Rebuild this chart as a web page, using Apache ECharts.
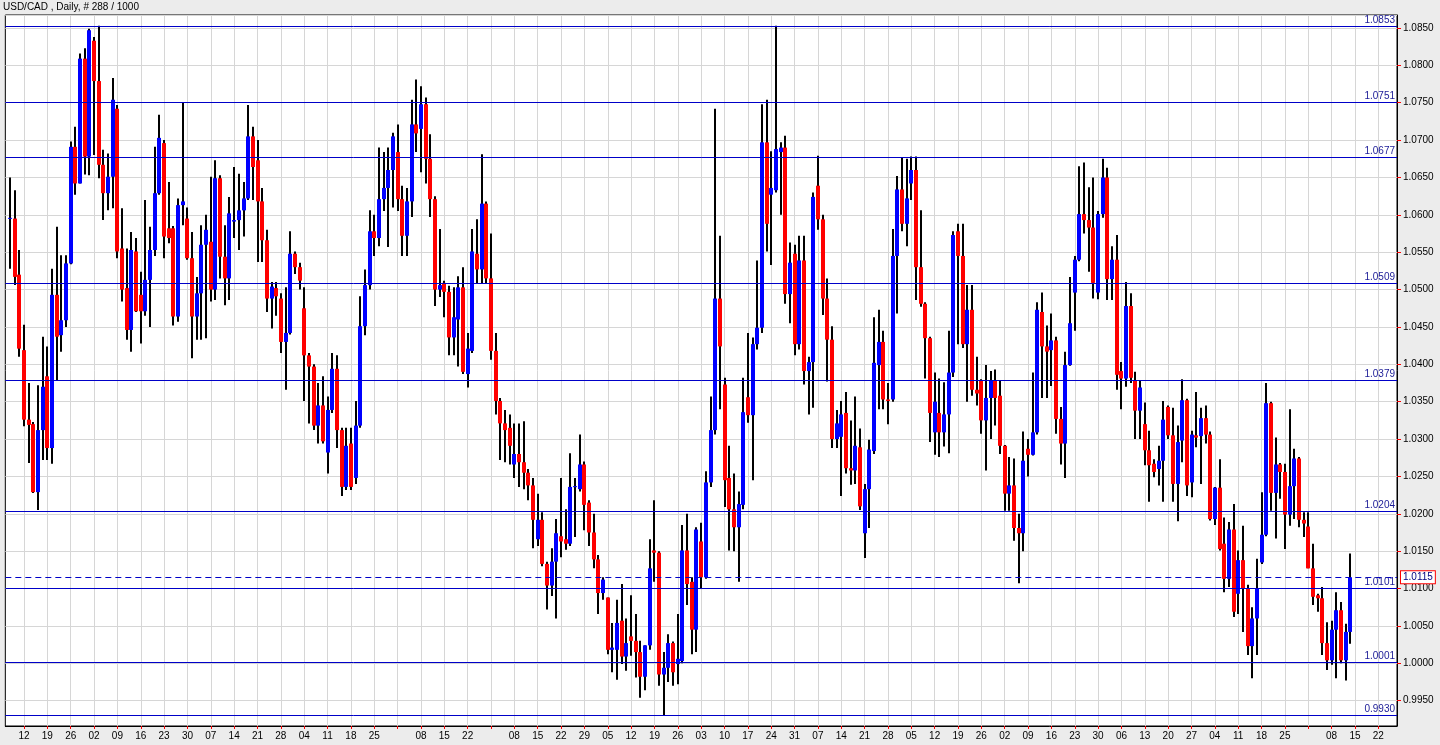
<!DOCTYPE html>
<html>
<head>
<meta charset="utf-8">
<script src="https://cdn.jsdelivr.net/npm/echarts@6/dist/echarts.min.js"></script>
<style>
html,body{margin:0;padding:0;background:#ececec;}
#chart{width:1440px;height:745px;}
</style>
</head>
<body>
<div id="chart"></div>
<script>
// ---- data ----
const chartTitle = 'USD/CAD , Daily, # 288 / 1000';
const firstSlotDate = '2009-10-06';   // one empty slot before the first bar
const slotCount = 299;                 // 1 empty + 288 bars + 10 future slots

const opens = [
1.0595,1.0595,1.0520,1.0419,1.0326,1.0320,1.0229,1.0312,1.0384,1.0288,
1.0493,1.0439,1.0459,1.0535,1.0691,1.0642,1.0809,1.0678,1.0833,1.0779,
1.0667,1.0629,1.0651,1.0742,1.0555,1.0502,1.0446,1.0551,1.0493,1.0471,
1.0513,1.0553,1.0629,1.0696,1.0582,1.0582,1.0464,1.0613,1.0595,1.0542,
1.0464,1.0495,1.0560,1.0564,1.0500,1.0649,1.0544,1.0515,1.0591,1.0593,
1.0606,1.0622,1.0705,1.0673,1.0618,1.0566,1.0488,1.0502,1.0488,1.0430,
1.0442,1.0548,1.0530,1.0475,1.0412,1.0397,1.0318,1.0345,1.0282,1.0339,
1.0394,1.0312,1.0236,1.0294,1.0248,1.0318,1.0451,1.0506,1.0578,1.0569,
1.0621,1.0636,1.0660,1.0684,1.0621,1.0572,1.0618,1.0721,1.0715,1.0748,
1.0675,1.0621,1.0500,1.0509,1.0497,1.0436,1.0460,1.0503,1.0387,1.0418,
1.0548,1.0527,1.0615,1.0515,1.0418,1.0351,1.0321,1.0315,1.0266,1.0280,
1.0269,1.0255,1.0238,1.0166,1.0192,1.0133,1.0104,1.0136,1.0170,1.0166,
1.0160,1.0236,1.0233,1.0266,1.0215,1.0175,1.0139,1.0094,1.0088,1.0018,
1.0018,1.0057,1.0009,1.0036,1.0030,1.0015,0.9982,1.0024,1.0151,1.0148,
0.9985,0.9994,1.0027,0.9999,1.0003,1.0151,1.0109,1.0045,1.0163,1.0115,
1.0242,1.0312,1.0488,1.0373,1.0248,1.0206,1.0182,1.0212,1.0356,1.0332,
1.0427,1.0449,1.0697,1.0627,1.0633,1.0684,1.0690,1.0494,1.0548,1.0427,
1.0539,1.0391,1.0403,1.0639,1.0594,1.0488,1.0433,1.0300,1.0303,1.0335,
1.0261,1.0258,1.0289,1.0174,1.0233,1.0284,1.0399,1.0430,1.0353,1.0353,
1.0545,1.0634,1.0588,1.0642,1.0660,1.0530,1.0481,1.0435,1.0309,1.0335,
1.0309,1.0333,1.0389,1.0578,1.0545,1.0427,1.0473,1.0366,1.0378,1.0325,
1.0355,1.0378,1.0358,1.0291,1.0227,1.0238,1.0181,1.0174,1.0287,1.0279,
1.0309,1.0470,1.0424,1.0419,1.0432,1.0327,1.0294,1.0399,1.0496,1.0540,
1.0601,1.0593,1.0583,1.0496,1.0601,1.0650,1.0514,1.0540,1.0391,1.0381,
1.0478,1.0378,1.0338,1.0320,1.0285,1.0267,1.0260,1.0271,1.0343,1.0305,
1.0240,1.0298,1.0352,1.0242,1.0305,1.0304,1.0328,1.0306,1.0193,1.0235,
1.0160,1.0113,1.0179,1.0093,1.0138,1.0100,1.0023,1.0060,1.0135,1.0172,
1.0348,1.0228,1.0266,1.0256,1.0199,1.0237,1.0274,1.0192,1.0183,1.0127,
1.0091,1.0087,1.0027,1.0004,1.0045,1.0071,1.0004,1.0042
];
const highs = [
1.0650,1.0633,1.0553,1.0453,1.0375,1.0323,1.0372,1.0437,1.0424,1.0528,
1.0584,1.0546,1.0546,1.0698,1.0718,1.0816,1.0823,1.0849,1.0838,1.0853,
1.0687,1.0682,1.0783,1.0747,1.0609,1.0555,1.0577,1.0569,1.0524,1.0620,
1.0584,1.0691,1.0734,1.0700,1.0644,1.0585,1.0622,1.0751,1.0610,1.0577,
1.0517,1.0586,1.0600,1.0651,1.0673,1.0653,1.0586,1.0624,1.0664,1.0655,
1.0644,1.0747,1.0718,1.0700,1.0636,1.0580,1.0510,1.0510,1.0495,1.0503,
1.0578,1.0551,1.0536,1.0503,1.0415,1.0400,1.0375,1.0384,1.0357,1.0415,
1.0412,1.0315,1.0315,1.0315,1.0351,1.0491,1.0527,1.0606,1.0600,1.0690,
1.0684,1.0690,1.0710,1.0721,1.0639,1.0636,1.0754,1.0781,1.0772,1.0757,
1.0708,1.0625,1.0581,1.0512,1.0505,1.0503,1.0518,1.0530,1.0442,1.0581,
1.0594,1.0681,1.0618,1.0575,1.0442,1.0355,1.0339,1.0333,1.0321,1.0321,
1.0324,1.0260,1.0248,1.0227,1.0202,1.0136,1.0154,1.0193,1.0248,1.0206,
1.0281,1.0248,1.0306,1.0270,1.0218,1.0200,1.0145,1.0115,1.0088,1.0054,
1.0085,1.0106,1.0060,1.0091,1.0066,1.0030,1.0024,1.0166,1.0218,1.0150,
1.0015,1.0039,1.0029,1.0066,1.0185,1.0200,1.0115,1.0182,1.0188,1.0257,
1.0357,1.0742,1.0572,1.0382,1.0291,1.0254,1.0230,1.0382,1.0442,1.0436,
1.0539,1.0748,1.0754,1.0685,1.0853,1.0697,1.0706,1.0563,1.0560,1.0572,
1.0572,1.0410,1.0630,1.0679,1.0600,1.0515,1.0451,1.0339,1.0351,1.0363,
1.0325,1.0357,1.0314,1.0240,1.0299,1.0463,1.0473,1.0445,1.0375,1.0581,
1.0652,1.0676,1.0675,1.0678,1.0678,1.0606,1.0483,1.0437,1.0389,1.0381,
1.0376,1.0445,1.0578,1.0588,1.0588,1.0506,1.0506,1.0410,1.0380,1.0399,
1.0391,1.0393,1.0378,1.0292,1.0276,1.0274,1.0200,1.0310,1.0300,1.0389,
1.0483,1.0496,1.0452,1.0468,1.0437,1.0343,1.0417,1.0517,1.0545,1.0665,
1.0670,1.0637,1.0650,1.0605,1.0675,1.0663,1.0558,1.0573,1.0403,1.0510,
1.0495,1.0390,1.0378,1.0349,1.0311,1.0273,1.0291,1.0351,1.0345,1.0342,
1.0318,1.0380,1.0354,1.0311,1.0363,1.0342,1.0345,1.0310,1.0236,1.0273,
1.0195,1.0189,1.0213,1.0151,1.0184,1.0105,1.0075,1.0140,1.0229,1.0375,
1.0350,1.0302,1.0268,1.0267,1.0340,1.0287,1.0276,1.0202,1.0202,1.0160,
1.0093,1.0102,1.0055,1.0057,1.0095,1.0082,1.0053,1.0147
];
const lows = [
1.0528,1.0506,1.0410,1.0317,1.0268,1.0228,1.0205,1.0272,1.0272,1.0267,
1.0379,1.0417,1.0450,1.0534,1.0627,1.0642,1.0654,1.0653,1.0680,1.0649,
1.0593,1.0606,1.0609,1.0542,1.0484,1.0433,1.0417,1.0470,1.0428,1.0465,
1.0450,1.0545,1.0627,1.0542,1.0562,1.0452,1.0457,1.0586,1.0540,1.0408,
1.0433,1.0433,1.0435,1.0484,1.0486,1.0515,1.0479,1.0486,1.0569,1.0553,
1.0571,1.0620,1.0620,1.0537,1.0537,1.0470,1.0448,1.0465,1.0415,1.0366,
1.0440,1.0521,1.0500,1.0351,1.0321,1.0312,1.0294,1.0294,1.0254,1.0335,
1.0288,1.0224,1.0232,1.0232,1.0240,1.0315,1.0439,1.0500,1.0545,1.0558,
1.0605,1.0557,1.0610,1.0605,1.0545,1.0545,1.0597,1.0684,1.0657,1.0642,
1.0597,1.0478,1.0490,1.0463,1.0412,1.0412,1.0397,1.0387,1.0369,1.0415,
1.0508,1.0508,1.0508,1.0406,1.0333,1.0272,1.0269,1.0266,1.0248,1.0236,
1.0233,1.0218,1.0154,1.0157,1.0130,1.0072,1.0090,1.0060,1.0142,1.0152,
1.0157,1.0169,1.0230,1.0178,1.0157,1.0127,1.0066,1.0085,1.0012,0.9988,
0.9978,0.9999,0.9990,1.0010,0.9981,0.9954,0.9964,1.0018,1.0109,0.9970,
0.9930,0.9975,0.9970,0.9972,1.0000,1.0078,1.0012,1.0015,1.0100,1.0113,
1.0236,1.0306,1.0340,1.0209,1.0151,1.0150,1.0109,1.0206,1.0322,1.0245,
1.0420,1.0442,1.0551,1.0533,1.0630,1.0600,1.0481,1.0455,1.0412,1.0420,
1.0373,1.0333,1.0342,1.0580,1.0466,1.0377,1.0288,1.0288,1.0224,1.0254,
1.0239,1.0240,1.0205,1.0141,1.0181,1.0280,1.0340,1.0340,1.0320,1.0350,
1.0468,1.0578,1.0558,1.0620,1.0486,1.0477,1.0381,1.0296,1.0279,1.0276,
1.0290,1.0281,1.0383,1.0427,1.0422,1.0350,1.0358,1.0345,1.0307,1.0258,
1.0300,1.0318,1.0280,1.0204,1.0204,1.0164,1.0107,1.0150,1.0250,1.0278,
1.0306,1.0355,1.0355,1.0371,1.0307,1.0266,1.0248,1.0398,1.0445,1.0538,
1.0575,1.0524,1.0488,1.0487,1.0596,1.0486,1.0486,1.0366,1.0340,1.0370,
1.0375,1.0300,1.0300,1.0265,1.0216,1.0249,1.0238,1.0216,1.0300,1.0216,
1.0190,1.0269,1.0224,1.0222,1.0289,1.0240,1.0294,1.0191,1.0185,1.0151,
1.0095,1.0102,1.0062,1.0066,1.0042,1.0011,0.9980,1.0011,1.0133,1.0170,
1.0204,1.0167,1.0220,1.0153,1.0184,1.0193,1.0182,1.0169,1.0127,1.0078,
1.0069,1.0011,0.9991,0.9998,0.9980,1.0000,0.9977,1.0026
];
const closes = [
1.0596,1.0517,1.0421,1.0326,1.0319,1.0229,1.0312,1.0370,1.0288,1.0493,
1.0437,1.0459,1.0535,1.0691,1.0642,1.0809,1.0678,1.0847,1.0779,1.0667,
1.0629,1.0651,1.0754,1.0551,1.0500,1.0446,1.0553,1.0471,1.0471,1.0513,
1.0553,1.0629,1.0703,1.0571,1.0569,1.0464,1.0613,1.0618,1.0542,1.0464,
1.0495,1.0560,1.0580,1.0500,1.0649,1.0544,1.0515,1.0602,1.0593,1.0606,
1.0622,1.0705,1.0664,1.0618,1.0566,1.0488,1.0504,1.0491,1.0430,1.0442,
1.0548,1.0530,1.0512,1.0412,1.0397,1.0318,1.0345,1.0297,1.0339,1.0394,
1.0312,1.0236,1.0291,1.0236,1.0318,1.0451,1.0506,1.0578,1.0569,1.0621,
1.0636,1.0660,1.0705,1.0621,1.0572,1.0618,1.0721,1.0709,1.0748,1.0675,
1.0621,1.0500,1.0506,1.0497,1.0436,1.0463,1.0503,1.0390,1.0421,1.0551,
1.0527,1.0615,1.0515,1.0418,1.0351,1.0321,1.0312,1.0291,1.0280,1.0269,
1.0255,1.0238,1.0192,1.0192,1.0133,1.0104,1.0136,1.0174,1.0163,1.0160,
1.0236,1.0237,1.0266,1.0212,1.0175,1.0139,1.0094,1.0112,1.0018,1.0021,
1.0054,1.0009,1.0027,1.0030,1.0015,0.9982,1.0024,1.0127,1.0148,0.9985,
0.9994,1.0027,0.9988,1.0006,1.0151,1.0106,1.0045,1.0179,1.0115,1.0242,
1.0312,1.0488,1.0424,1.0245,1.0206,1.0182,1.0213,1.0336,1.0332,1.0427,
1.0449,1.0697,1.0588,1.0636,1.0688,1.0690,1.0494,1.0536,1.0427,1.0539,
1.0391,1.0403,1.0624,1.0594,1.0488,1.0433,1.0300,1.0321,1.0333,1.0261,
1.0258,1.0291,1.0210,1.0233,1.0286,1.0402,1.0430,1.0353,1.0351,1.0545,
1.0634,1.0588,1.0622,1.0660,1.0530,1.0481,1.0435,1.0335,1.0350,1.0309,
1.0333,1.0389,1.0573,1.0545,1.0427,1.0473,1.0366,1.0361,1.0325,1.0355,
1.0378,1.0355,1.0291,1.0227,1.0238,1.0181,1.0174,1.0271,1.0279,1.0309,
1.0473,1.0424,1.0417,1.0432,1.0327,1.0294,1.0399,1.0455,1.0540,1.0601,
1.0593,1.0583,1.0509,1.0601,1.0650,1.0514,1.0540,1.0386,1.0381,1.0478,
1.0382,1.0338,1.0369,1.0285,1.0265,1.0256,1.0271,1.0326,1.0305,1.0240,
1.0296,1.0352,1.0238,1.0306,1.0302,1.0328,1.0306,1.0193,1.0235,1.0153,
1.0113,1.0179,1.0069,1.0138,1.0100,1.0023,1.0060,1.0100,1.0172,1.0348,
1.0228,1.0266,1.0256,1.0199,1.0237,1.0274,1.0192,1.0187,1.0127,1.0089,
1.0087,1.0027,1.0004,1.0045,1.0071,1.0004,1.0042,1.0115
];
// horizontal levels drawn on the chart and the current price
const levelValues = [1.0853, 1.0751, 1.0677, 1.0509, 1.0379, 1.0204, 1.0101, 1.0001, 0.9930];
const currentPrice = 1.0115;
// y axis range and step
const yMin = 0.99161, yMax = 1.08674, yTicks = 19;

// ---- build ----
function weekdaySlots(start, count) {
  const out = [];
  const d = new Date(start + 'T00:00:00Z');
  while (out.length < count) {
    const wd = d.getUTCDay();
    if (wd !== 0 && wd !== 6) out.push(d.toISOString().slice(0, 10));
    d.setUTCDate(d.getUTCDate() + 1);
  }
  return out;
}
const dates = weekdaySlots(firstSlotDate, slotCount);
const isMonday = v => new Date(v + 'T00:00:00Z').getUTCDay() === 1;

const candleData = opens.map((o, i) => [i + 1, o, highs[i], lows[i], closes[i]]);
const FONT = '"Liberation Sans", Arial, sans-serif';

const chart = echarts.init(document.getElementById('chart'), null, {renderer: 'canvas'});
chart.setOption({
  animation: false,
  backgroundColor: '#ececec',
  title: {
    text: chartTitle, left: 3, top: 2, padding: 0,
    textStyle: {fontFamily: FONT, fontSize: 10, fontWeight: 'normal', color: '#000'}
  },
  grid: {
    left: 5.33, right: 43, top: 15, bottom: 19,
    show: true, backgroundColor: '#ffffff', borderColor: '#000', borderWidth: 1
  },
  xAxis: {
    type: 'category', data: dates, boundaryGap: false,
    axisLine: {show: true, lineStyle: {color: '#000', width: 1}},
    axisTick: {show: true, length: 3, lineStyle: {color: '#ff0000'}, interval: (i, v) => isMonday(v)},
    axisLabel: {
      interval: (i, v) => isMonday(v) && v.slice(8) !== '01',
      formatter: v => v.slice(8),
      color: '#000', fontFamily: FONT, fontSize: 10, margin: 5
    },
    splitLine: {show: true, interval: (i, v) => isMonday(v), lineStyle: {color: '#d6d6d6', width: 1}}
  },
  yAxis: {
    type: 'value', position: 'right', min: yMin, max: yMax, splitNumber: yTicks,
    axisLine: {show: true, lineStyle: {color: '#000', width: 1}},
    axisTick: {show: true, length: 4, lineStyle: {color: '#ff0000'}},
    axisLabel: {
      formatter: v => v.toFixed(4), showMinLabel: false, showMaxLabel: false,
      color: '#000', fontFamily: FONT, fontSize: 10, margin: 6
    },
    splitLine: {show: true, lineStyle: {color: '#d6d6d6', width: 1}}
  },
  series: [{
    type: 'custom',
    name: 'USD/CAD',
    data: candleData,
    encode: {x: 0, y: [1, 2, 3, 4]},
    clip: true,
    renderItem: function (params, api) {
      const k = api.value(0);
      const o = api.value(1), h = api.value(2), l = api.value(3), c = api.value(4);
      const hi = Math.max(h, o, c), lo = Math.min(l, o, c);
      const pO = api.coord([k, o]), pC = api.coord([k, c]);
      const pH = api.coord([k, hi]), pL = api.coord([k, lo]);
      const x = Math.round(pO[0]);
      let top = Math.min(pO[1], pC[1]);
      let bh = Math.abs(pO[1] - pC[1]);
      if (bh < 1) { bh = 1; }
      const col = c > o ? '#0000ff' : (c < o ? '#ff0000' : '#000000');
      return {
        type: 'group',
        children: [
          {type: 'rect', shape: {x: x - 1, y: pH[1], width: 2, height: Math.max(1, pL[1] - pH[1])}, style: {fill: '#000'}},
          {type: 'rect', shape: {x: x - 2, y: top, width: 4, height: bh}, style: {fill: col}}
        ]
      };
    },
    markLine: {
      silent: true, symbol: ['none', 'none'], animation: false, precision: 4,
      data: levelValues.map(v => ({
        yAxis: v,
        lineStyle: {color: '#0000c8', width: 1, type: 'solid'},
        label: {show: true, position: 'insideEndTop', formatter: v.toFixed(4), color: '#1a1a96',
                fontFamily: FONT, fontSize: 10, distance: [2, 1]}
      })).concat([{
        yAxis: currentPrice,
        lineStyle: {color: '#0000c8', width: 1, type: [6, 4]},
        label: {show: true, position: 'end', formatter: currentPrice.toFixed(4), color: '#000080',
                fontFamily: FONT, fontSize: 10, backgroundColor: '#ffffff', borderColor: '#ff0000',
                borderWidth: 1, padding: [1, 2, 0, 2], lineHeight: 11, distance: 4}
      }])
    }
  }]
});
</script>
</body>
</html>
